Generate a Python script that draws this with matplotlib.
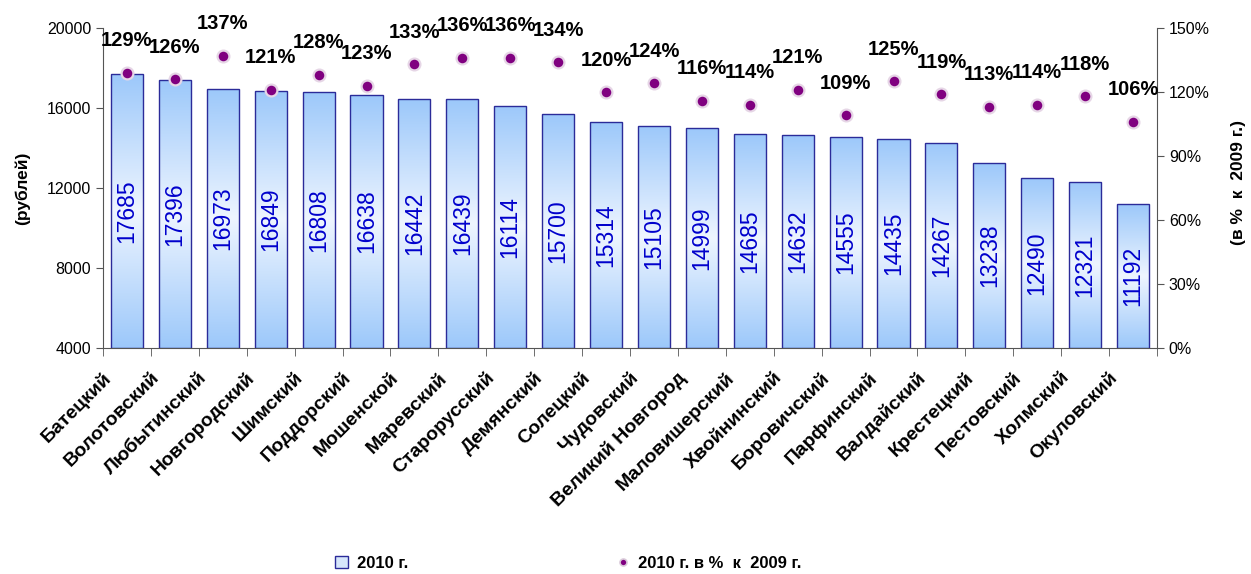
import matplotlib
matplotlib.use('Agg')
import matplotlib.pyplot as plt
import numpy as np
from matplotlib.colors import LinearSegmentedColormap
from matplotlib.ticker import PercentFormatter, FixedLocator
from matplotlib.lines import Line2D
from matplotlib.patches import Patch
from matplotlib.transforms import ScaledTranslation

plt.rcParams['font.family'] = ['Liberation Sans', 'DejaVu Sans']

districts = ['Батецкий', 'Волотовский', 'Любытинский', 'Новгородский', 'Шимский',
             'Поддорский', 'Мошенской', 'Маревский', 'Старорусский', 'Демянский',
             'Солецкий', 'Чудовский', 'Великий Новгород', 'Маловишерский',
             'Хвойнинский', 'Боровичский', 'Парфинский', 'Валдайский',
             'Крестецкий', 'Пестовский', 'Холмский', 'Окуловский']
wages_2010 = [17685, 17396, 16973, 16849, 16808, 16638, 16442, 16439, 16114, 15700,
              15314, 15105, 14999, 14685, 14632, 14555, 14435, 14267, 13238, 12490,
              12321, 11192]
pct_vs_2009 = [129, 126, 137, 121, 128, 123, 133, 136, 136, 134, 120, 124, 116, 114,
               121, 109, 125, 119, 113, 114, 118, 106]
y_ticks = [4000, 8000, 12000, 16000, 20000]
y2_ticks = [0, 0.3, 0.6, 0.9, 1.2, 1.5]

W, H = 1251, 574
fig = plt.figure(figsize=(W / 100, H / 100), dpi=100)
ax = fig.add_axes([103 / W, 1 - 348 / H, (1157 - 103) / W, (348 - 28) / H])

x = np.arange(len(districts))
ymin, ymax = 4000, 20000
vals = np.array(wages_2010, dtype=float)
bars = ax.bar(x, vals - ymin, bottom=ymin, width=0.67, facecolor='none',
              edgecolor='#2B2B99', linewidth=1.0, zorder=3)

cmap = LinearSegmentedColormap.from_list('g', ['#9CC8FA', '#EEF5FF', '#9CC8FA'])
grad = np.linspace(0, 1, 256).reshape(-1, 1)
for r in bars:
    x0, w = r.get_x(), r.get_width()
    y0, h = r.get_y(), r.get_height()
    im = ax.imshow(grad, extent=[x0, x0 + w, y0, y0 + h], aspect='auto',
                   cmap=cmap, origin='lower', zorder=2, interpolation='bicubic')
    im.set_clip_path(r)

ax.bar_label(bars, labels=[str(v) for v in wages_2010], label_type='center',
             rotation=90, color='#0000CC', fontsize=16.5, zorder=5)

ax.set_xlim(-0.5, len(districts) - 0.5)
ax.set_ylim(ymin, ymax)
ax.set_yticks(y_ticks)
ax.tick_params(axis='y', direction='out', length=5, labelsize=11.5, color='#555555')
ax.set_xticks(x)
ax.set_xticklabels(districts, rotation=45, ha='right', va='top',
                   fontsize=14, fontweight='bold')
ax.tick_params(axis='x', length=0, pad=15)
shift = ScaledTranslation(-12 / 100, 0, fig.dpi_scale_trans)
for lab in ax.get_xticklabels():
    lab.set_transform(lab.get_transform() + shift)
ax.xaxis.set_minor_locator(FixedLocator(np.arange(-0.5, len(districts), 1.0)))
ax.tick_params(axis='x', which='minor', direction='out', length=6, color='#555555')
for s in ['top', 'right']:
    ax.spines[s].set_visible(False)
for s in ['left', 'bottom']:
    ax.spines[s].set_color('#555555')
ax.set_ylabel('(рублей)', fontsize=12.5, fontweight='bold', labelpad=12)

ax2 = ax.twinx()
ax2.set_ylim(0, 1.5)
ax2.set_yticks(y2_ticks)
ax2.yaxis.set_major_formatter(PercentFormatter(1.0, decimals=0))
ax2.tick_params(axis='y', direction='out', length=5, labelsize=11.5, color='#555555')
for s in ['top', 'left', 'bottom']:
    ax2.spines[s].set_visible(False)
ax2.spines['right'].set_color('#555555')
p = np.array(pct_vs_2009) / 100.0
ax2.plot(x, p, 'o', ls='none', color='#800080', mec='#E6D6E6', mew=1.6, ms=8.5,
         zorder=6, clip_on=False)
for xi, pv, lab in zip(x, p, pct_vs_2009):
    ax2.annotate(f'{lab}%', (xi, pv), xytext=(0, 23), textcoords='offset points',
                 ha='center', va='center', fontsize=14.5, fontweight='bold',
                 annotation_clip=False)
fig.text(1238 / W, 1 - 182 / H, '(в %  к  2009 г.)', rotation=90, ha='center',
         va='center', fontsize=12.5, fontweight='bold')

handles = [Patch(facecolor='#D6E6FB', edgecolor='#2B2B99', linewidth=1.0),
           Line2D([], [], marker='o', ls='none', color='#800080', mec='#D8C8D8',
                  mew=1.2, ms=5)]
fig.legend(handles, ['2010 г.', '2010 г. в %  к  2009 г.'], loc='center',
           bbox_to_anchor=(568 / W, 1 - 563 / H), ncol=2, frameon=False,
           columnspacing=12.5, handlelength=0.8, handletextpad=0.5,
           prop={'size': 12, 'weight': 'bold'})

fig.savefig('out.png', dpi=100)
